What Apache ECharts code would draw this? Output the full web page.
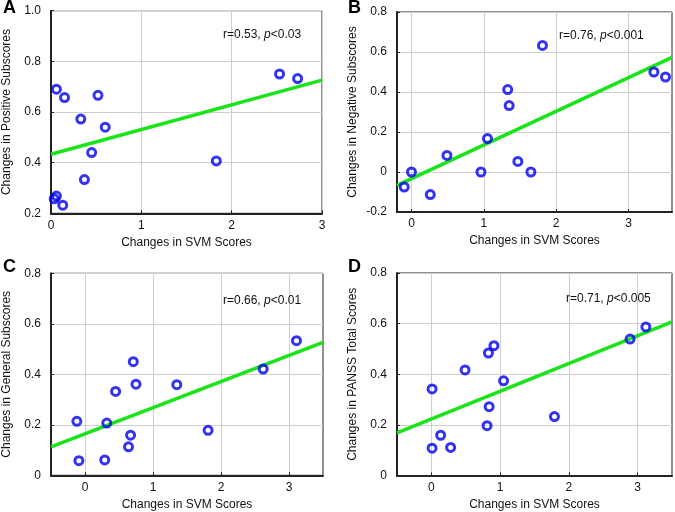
<!DOCTYPE html>
<html>
<head>
<meta charset="utf-8">
<script src="https://cdn.jsdelivr.net/npm/echarts@6/dist/echarts.min.js"></script>
<style>
  html, body { margin: 0; padding: 0; background: #fff; }
  #chart { width: 675px; height: 512px; }
</style>
</head>
<body>
<div id="chart"></div>
<script>
// ─── data ───────────────────────────────────────────────
// A: positive subscores
const aSvm = [0.06, 0.15, 0.52, 0.33, 0.60, 0.45, 0.37, 0.06, 0.035, 0.13, 1.83, 2.53, 2.73];
const aChg = [0.69, 0.657, 0.666, 0.572, 0.54, 0.44, 0.333, 0.268, 0.257, 0.232, 0.407, 0.75, 0.732];
const aFit = [[0, 0.433], [3, 0.726]];

// B: negative subscores
const bSvm = [-0.10, 0.0, 0.26, 0.49, 0.96, 1.05, 1.33, 1.35, 1.47, 1.65, 1.81, 3.35, 3.51];
const bChg = [-0.075, 0.0, -0.113, 0.083, 0.0, 0.167, 0.412, 0.332, 0.053, 0.0, 0.633, 0.50, 0.475];
const bFit = [[-0.2, -0.067], [3.6, 0.573]];

// C: general subscores
const cSvm = [-0.12, -0.09, 0.29, 0.32, 0.45, 0.71, 0.75, 0.67, 0.64, 1.35, 1.81, 2.62, 3.11];
const cChg = [0.214, 0.058, 0.061, 0.207, 0.332, 0.45, 0.361, 0.159, 0.113, 0.359, 0.178, 0.421, 0.533];
const cFit = [[-0.5, 0.113], [3.5, 0.526]];

// D: PANSS total
const dSvm = [0.01, 0.01, 0.135, 0.28, 0.49, 0.83, 0.91, 1.05, 0.84, 0.81, 1.79, 2.89, 3.12];
const dChg = [0.342, 0.108, 0.159, 0.111, 0.417, 0.484, 0.513, 0.374, 0.272, 0.197, 0.233, 0.539, 0.587];
const dFit = [[-0.5, 0.168], [3.5, 0.607]];

const xTicks = [0, 1, 2, 3];

const panels = [
  { letter: "A", yName: "Changes in Positive Subscores", stat: ["r=0.53, ", "<0.03"],
    x: aSvm, y: aChg, fit: aFit, xMin: 0, xMax: 3, yMin: 0.2, yMax: 1.0,
    grid: { left: 51, top: 10.7, width: 271, height: 202.6 }, statPos: [223, 29], letterPos: [3, -1] },
  { letter: "B", yName: "Changes in Negative Subscores", stat: ["r=0.76, ", "<0.001"],
    x: bSvm, y: bChg, fit: bFit, xMin: -0.2, xMax: 3.6, yMin: -0.2, yMax: 0.8,
    grid: { left: 397, top: 12, width: 275, height: 200 }, statPos: [559, 30], letterPos: [348, -1] },
  { letter: "C", yName: "Changes in General Subscores", stat: ["r=0.66, ", "<0.01"],
    x: cSvm, y: cChg, fit: cFit, xMin: -0.5, xMax: 3.5, yMin: 0, yMax: 0.8,
    grid: { left: 51, top: 273.3, width: 272, height: 202 }, statPos: [223, 295], letterPos: [3, 258] },
  { letter: "D", yName: "Changes in PANSS Total Scores", stat: ["r=0.71, ", "<0.005"],
    x: dSvm, y: dChg, fit: dFit, xMin: -0.5, xMax: 3.5, yMin: 0, yMax: 0.8,
    grid: { left: 397, top: 273, width: 275, height: 202.5 }, statPos: [566, 293], letterPos: [348, 258] }
];

const FONT = "Liberation Sans, Arial, Helvetica, sans-serif";
const TXT = "#111";

const fmtY = (v) => {
  if (Math.abs(v) < 1e-9) return "0";
  return (Math.round(v * 10) / 10).toFixed(1);
};

const chart = echarts.init(document.getElementById("chart"), null, { renderer: "canvas" });

const grids = [], xAxes = [], yAxes = [], series = [], titles = [];

panels.forEach((p, i) => {
  grids.push({
    left: p.grid.left, top: p.grid.top, width: p.grid.width, height: p.grid.height,
    show: true, borderColor: "#222", borderWidth: 1, backgroundColor: "transparent"
  });

  xAxes.push({
    gridIndex: i,
    type: "value",
    min: p.xMin, max: p.xMax,
    name: "Changes in SVM Scores",
    nameLocation: "middle",
    nameGap: 23,
    nameTextStyle: { fontSize: 12, color: TXT, fontFamily: FONT },
    axisLine: { show: true, onZero: false, lineStyle: { color: "#222", width: 2 } },
    axisTick: { show: true, inside: true, length: 3, customValues: xTicks, lineStyle: { color: "#222" } },
    axisLabel: { customValues: xTicks, margin: 6, fontSize: 12, color: TXT, fontFamily: FONT },
    splitLine: { show: true, lineStyle: { color: "#cfcfcf", width: 1 } }
  });

  yAxes.push({
    gridIndex: i,
    type: "value",
    min: p.yMin, max: p.yMax, interval: 0.2,
    name: p.yName,
    nameLocation: "middle",
    nameGap: 38,
    nameTextStyle: { fontSize: 12, color: TXT, fontFamily: FONT },
    axisLine: { show: true, onZero: false, lineStyle: { color: "#222", width: 2 } },
    axisTick: { show: true, inside: true, length: 3, lineStyle: { color: "#222" } },
    axisLabel: { margin: 10, fontSize: 12, color: TXT, fontFamily: FONT, formatter: fmtY },
    splitLine: { show: true, lineStyle: { color: "#cfcfcf", width: 1 } }
  });

  series.push({
    type: "line",
    xAxisIndex: i, yAxisIndex: i,
    data: p.fit,
    showSymbol: false,
    silent: true,
    z: 2,
    lineStyle: { color: "#18e418", width: 3.5 }
  });

  series.push({
    type: "scatter",
    xAxisIndex: i, yAxisIndex: i,
    data: p.x.map((v, k) => [v, p.y[k]]),
    symbol: "circle",
    symbolSize: 8,
    z: 3,
    itemStyle: { color: "rgba(0,0,0,0)", borderColor: "#0000f0", borderWidth: 3 }
  });

  titles.push({
    text: p.letter,
    left: p.letterPos[0], top: p.letterPos[1], padding: 0,
    textStyle: { fontSize: 18, fontWeight: "bold", color: "#000", fontFamily: FONT }
  });

  titles.push({
    text: "{n|" + p.stat[0] + "}{i|p}{n|" + p.stat[1] + "}",
    left: p.statPos[0], top: p.statPos[1], padding: 0,
    textStyle: {
      fontWeight: "normal",
      rich: {
        n: { fontSize: 12, fontWeight: "normal", color: TXT, fontFamily: FONT },
        i: { fontSize: 12, fontWeight: "normal", color: TXT, fontFamily: FONT, fontStyle: "italic" }
      }
    }
  });
});

chart.setOption({
  animation: false,
  backgroundColor: "#fff",
  title: titles,
  grid: grids,
  xAxis: xAxes,
  yAxis: yAxes,
  series: series
});
</script>
</body>
</html>
